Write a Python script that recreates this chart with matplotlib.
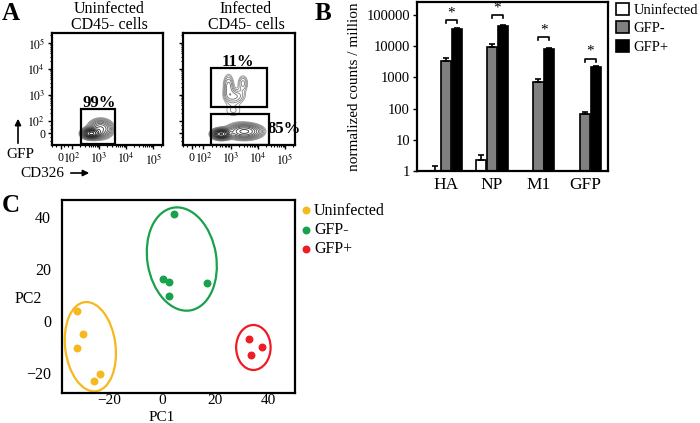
import numpy as np
import matplotlib
matplotlib.use("Agg")
import matplotlib.pyplot as plt
from matplotlib.patches import Rectangle, Ellipse, FancyArrowPatch

plt.rcParams['font.family'] = ['Liberation Serif', 'DejaVu Serif']
plt.rcParams['mathtext.fontset'] = 'stix'

# ---- Panel A: flow gates (display coords: 0 -> 1.54, 10^k -> k)
flow_xticks = [1.58, 2, 3, 4, 5]
flow_xlabels = ['0', '$10^2$', '$10^3$', '$10^4$', '$10^5$']
flow_yticks = [1.54, 2, 3, 4, 5]
flow_ylabels = ['0', '$10^2$', '$10^3$', '$10^4$', '$10^5$']

# populations: (x center, y center, x spread, y spread, weight)
uninf_pops = [(2.7, 1.52, 0.17, 0.1, 1.0),
              (3.05, 1.7, 0.25, 0.2, 0.3)]
inf_pops = [(2.65, 1.5, 0.17, 0.1, 1.0),
            (3.5, 1.6, 0.35, 0.16, 0.4),
            (2.92, 3.35, 0.13, 0.3, 0.09),
            (3.45, 3.45, 0.13, 0.22, 0.07),
            (3.15, 2.95, 0.25, 0.17, 0.08),
            (3.1, 2.4, 0.3, 0.25, 0.04)]

uninf_gates = [(2.32, 1.12, 3.59, 2.46)]
uninf_pct = [('99%', 99, 103)]
inf_gates = [(2.29, 2.54, 4.35, 4.04), (2.29, 1.08, 4.4, 2.27)]
inf_pct = [('11%', 238, 62), ('85%', 284, 129)]

# ---- Panel B
genes = ['HA', 'NP', 'M1', 'GFP']
uninfected = [1.0, 2.3, np.nan, np.nan]
uninfected_err = [0.4, 1.0, 0, 0]
gfp_neg = [3300, 9500, 700, 65]
gfp_neg_err = [800, 2700, 170, 12]
gfp_pos = [35000, 45000, 8000, 2100]
gfp_pos_err = [3500, 4000, 900, 250]
bracket_y = [69000, 100000, 19500, 4000]

# ---- Panel C: PCA
pc_uninf_x = [-32.2, -29.9, -32.2, -23.4, -25.7]
pc_uninf_y = [3.8, -5.0, -10.5, -20.4, -23.0]
pc_neg_x = [4.5, 0.3, 2.5, 2.5, 17.1]
pc_neg_y = [41.2, 16.0, 15.1, 9.6, 14.7]
pc_pos_x = [33.0, 37.9, 33.5]
pc_pos_y = [-7.0, -9.9, -13.0]
# ellipses: center x, center y, width, height, angle
pc_ellipses = [(-27.0, -9.9, 19, 34.5, 7),
               (7.5, 23.8, 26, 40, 9),
               (34.5, -10.2, 13, 17.3, 0)]
pc_colors = ['#f6b81c', '#17a24b', '#ee1c24']
pc_names = ['Uninfected', 'GFP-', 'GFP+']

W, H = 700, 423
fig = plt.figure(figsize=(7, 4.23), dpi=100)


def box(x0, y0, x1, y1):
    return [x0 / W, 1 - y1 / H, (x1 - x0) / W, (y1 - y0) / H]


def flow_axes(rect, pops, gates):
    ax = fig.add_axes(rect)
    xs = np.linspace(1.3, 5.4, 400)
    ys = np.linspace(1.0, 5.4, 400)
    X, Y = np.meshgrid(xs, ys)
    Z = np.zeros_like(X)
    for cx, cy, sx, sy, w in pops:
        Z += w * np.exp(-((X - cx) ** 2 / (2 * sx ** 2) + (Y - cy) ** 2 / (2 * sy ** 2)))
    levels = np.geomspace(0.03, 0.97, 15)
    cols = plt.cm.Greys(np.linspace(0.5, 1.0, len(levels)))
    ax.contour(X, Y, Z, levels=levels, colors=cols, linewidths=0.6)
    for x0, y0, x1, y1 in gates:
        ax.add_patch(Rectangle((x0, y0), x1 - x0, y1 - y0, fill=False,
                               ec='black', lw=1.6, zorder=5))
    ax.set_xlim(1.35, 5.36)
    ax.set_ylim(1.08, 5.38)
    ax.set_xticks(flow_xticks)
    ax.set_xticklabels(flow_xlabels, fontsize=8.5)
    ax.set_yticks(flow_yticks)
    ax.set_yticklabels(flow_ylabels, fontsize=8.5)
    minor = [np.log10(k) + d for d in range(2, 6) for k in range(2, 10)]
    minor = [m for m in minor if m < 5.36] + [1.25, 1.4, 1.7, 1.85]
    ax.set_xticks(minor, minor=True)
    ax.set_yticks(minor, minor=True)
    ax.tick_params(which='major', length=3, width=1, pad=2)
    ax.tick_params(which='minor', length=1.5, width=0.8)
    for s in ax.spines.values():
        s.set_linewidth(1.6)
    return ax


axA1 = flow_axes(box(52, 33, 163, 145), uninf_pops, uninf_gates)
axA2 = flow_axes(box(183, 33, 295, 145), inf_pops, inf_gates)
axA2.set_yticklabels([])

for txt, x, y in uninf_pct + inf_pct:
    fig.text(x / W, 1 - y / H, txt, ha='center', va='center',
             fontsize=12, fontweight='bold')

fig.text(109 / W, 1 - 9 / H, 'Uninfected', ha='center', va='center', fontsize=11.5)
fig.text(109 / W, 1 - 25 / H, 'CD45- cells', ha='center', va='center', fontsize=11.5)
fig.text(246 / W, 1 - 9 / H, 'Infected', ha='center', va='center', fontsize=11.5)
fig.text(246 / W, 1 - 25 / H, 'CD45- cells', ha='center', va='center', fontsize=11.5)

fig.text(2 / W, 1 - 14 / H, 'A', fontsize=18, fontweight='bold', va='center')
fig.text(315 / W, 1 - 14 / H, 'B', fontsize=18, fontweight='bold', va='center')
fig.text(2 / W, 1 - 205 / H, 'C', fontsize=18, fontweight='bold', va='center')

fig.text(20 / W, 1 - 155 / H, 'GFP', ha='center', va='center', fontsize=11)
fig.text(20 / W, 1 - 173 / H, 'CD326', ha='left', va='center', fontsize=11)
fig.patches.append(FancyArrowPatch(
    (18 / W, 1 - 146 / H), (18 / W, 1 - 116 / H), transform=fig.transFigure,
    arrowstyle='-|>', mutation_scale=9, lw=1.2, color='black'))
fig.patches.append(FancyArrowPatch(
    (68 / W, 1 - 173 / H), (92 / W, 1 - 173 / H), transform=fig.transFigure,
    arrowstyle='-|>', mutation_scale=9, lw=1.2, color='black'))

# ---- Panel B
axB = fig.add_axes(box(417, 2, 608, 171))
x = np.arange(len(genes))
bw = 0.22
off = 0.235
kw = dict(ecolor='black', capsize=2, error_kw=dict(lw=1.2, capthick=1.2))
u = np.array(uninfected)
m = ~np.isnan(u)
axB.bar(x[m] - off, u[m], bw, bottom=0.01, color='white', edgecolor='black', lw=1.2,
        yerr=[np.zeros(m.sum()), np.array(uninfected_err)[m]], label='Uninfected', **kw)
axB.bar(x, gfp_neg, bw, color='#808080', edgecolor='black', lw=1.2,
        yerr=[np.zeros(len(x)), gfp_neg_err], label='GFP-', **kw)
axB.bar(x + off, gfp_pos, bw, color='black', edgecolor='black', lw=1.2,
        yerr=[np.zeros(len(x)), gfp_pos_err], label='GFP+', **kw)
axB.set_yscale('log')
axB.set_ylim(1, 10 ** 5.42)
axB.set_xlim(-0.62, 3.5)
axB.set_yticks([1, 10, 100, 1000, 10000, 100000])
axB.set_yticklabels(['1', '10', '100', '1000', '10000', '100000'], fontsize=10.5)
axB.minorticks_off()
axB.set_xticks(x)
axB.set_xticklabels(genes, fontsize=12.5)
axB.tick_params(axis='x', length=0, pad=4)
axB.tick_params(axis='y', length=3, width=1, pad=2)
for s in axB.spines.values():
    s.set_linewidth(1.6)
axB.set_ylabel('normalized counts / million', fontsize=11, labelpad=4)
for i, by in enumerate(bracket_y):
    axB.plot([i, i, i + off, i + off], [by / 1.25, by, by, by / 1.25],
             color='black', lw=1.2)
    axB.text(i + off / 2, by * 1.05, '*', ha='center', va='bottom', fontsize=11)
axB.legend(loc='upper left', bbox_to_anchor=(1.01, 1.03), frameon=False,
           fontsize=10.5, handlelength=0.9, handleheight=0.9,
           handletextpad=0.3, borderaxespad=0, labelspacing=0.3)

# ---- Panel C
axC = fig.add_axes(box(62, 200, 295, 393))
groups = [(pc_uninf_x, pc_uninf_y), (pc_neg_x, pc_neg_y), (pc_pos_x, pc_pos_y)]
for (gx, gy), c, name, (ex, ey, ew, eh, ang) in zip(groups, pc_colors, pc_names, pc_ellipses):
    axC.scatter(gx, gy, s=22, color=c, label=name, zorder=3)
    axC.add_patch(Ellipse((ex, ey), ew, eh, angle=ang, fill=False, ec=c, lw=1.6))
axC.set_xlim(-37.7, 50.2)
axC.set_ylim(-27.7, 46.5)
axC.set_xticks([-20, 0, 20, 40])
axC.set_yticks([-20, 0, 20, 40])
axC.tick_params(axis='x', length=0, labelsize=11, pad=1)
axC.tick_params(axis='y', length=0, labelsize=11.5, pad=8)
for s in axC.spines.values():
    s.set_linewidth(1.6)
fig.text(162 / W, 1 - 417 / H, 'PC1', ha='center', va='center', fontsize=11)
fig.text(28 / W, 1 - 299 / H, 'PC2', ha='center', va='center', fontsize=11.5)
axC.legend(loc='upper left', bbox_to_anchor=(1.0, 1.02), frameon=False,
           fontsize=11.5, handlelength=0.6, handletextpad=0.2,
           borderaxespad=0, labelspacing=0.2, markerscale=1.0)

fig.savefig('out.png', dpi=100)
